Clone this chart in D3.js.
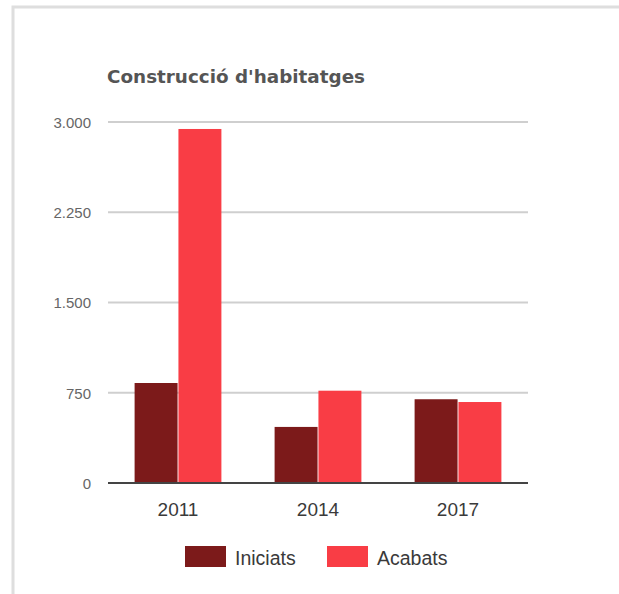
<!DOCTYPE html>
<html><head><meta charset="utf-8">
<script src="https://cdn.jsdelivr.net/npm/d3@7"></script>
<style>body{margin:0;background:#fff;} svg{display:block;}</style>
</head><body>
<svg id="c" width="619" height="594"></svg>
<script>
const categories = ["2011", "2014", "2017"];
const seriesNames = ["Iniciats", "Acabats"];
const iniciats = [831, 466, 696];
const acabats = [2942, 767, 673];
const yTicks = [0, 750, 1500, 2250, 3000];
const yTickLabels = ["0", "750", "1.500", "2.250", "3.000"];
const colors = ["#7c1a1a", "#f93d45"];

const svg = d3.select("#c");
// frame
svg.append("path").attr("d", "M619,7 H13 V594").attr("fill", "none").attr("stroke", "#dedede").attr("stroke-width", 3);

const x0 = d3.scaleBand().domain(categories).range([108, 528]).paddingInner(0.38).paddingOuter(0.19);
const x1 = d3.scaleBand().domain(seriesNames).range([0, x0.bandwidth()]).paddingInner(0.02);
const y = d3.scaleLinear().domain([0, 3000]).range([483, 122]);

// gridlines
svg.append("g").selectAll("line").data(yTicks.slice(1)).join("line")
  .attr("x1", 108).attr("x2", 528).attr("y1", d => y(d)).attr("y2", d => y(d))
  .attr("stroke", "#cfcfcf").attr("stroke-width", 2);

// y labels
const yAxis = d3.axisLeft(y).tickValues(yTicks).tickSize(0).tickPadding(0)
  .tickFormat((d, i) => yTickLabels[i]);
const ya = svg.append("g").attr("transform", "translate(91,0)").call(yAxis);
ya.select(".domain").remove();
ya.selectAll("text").attr("font-family", "Liberation Sans, Arial, sans-serif").attr("font-size", 15)
  .attr("fill", "#666").attr("dy", "0.36em");

// bars
const data = categories.map((c, i) => ({c, vals: [iniciats[i], acabats[i]]}));
const g = svg.append("g");
data.forEach(d => {
  d.vals.forEach((v, j) => {
    g.append("rect")
      .attr("x", x0(d.c) + x1(seriesNames[j]))
      .attr("y", y(v))
      .attr("width", x1.bandwidth())
      .attr("height", y(0) - y(v))
      .attr("fill", colors[j]);
  });
});

// baseline
svg.append("line").attr("x1", 108).attr("x2", 528).attr("y1", y(0)).attr("y2", y(0))
  .attr("stroke", "#444").attr("stroke-width", 2);

// x axis labels
const xAxis = d3.axisBottom(x0).tickSize(0).tickPadding(0);
const xa = svg.append("g").attr("transform", "translate(0,502)").call(xAxis);
xa.select(".domain").remove();
xa.selectAll("text").attr("font-family", "Liberation Sans, Arial, sans-serif").attr("font-size", 19).attr("fill", "#3a3a3a").attr("dy", "0.71em");

// title
svg.append("text").attr("x", 107).attr("y", 83)
  .attr("font-family", "DejaVu Sans, sans-serif").attr("font-weight", "bold").attr("font-size", 17)
  .attr("textLength", 258).attr("lengthAdjust", "spacingAndGlyphs")
  .attr("fill", "#555").text("Construcció d'habitatges");

// legend
const legX = [185, 327];
seriesNames.forEach((s, j) => {
  svg.append("rect").attr("x", legX[j]).attr("y", 546).attr("width", 41).attr("height", 21).attr("fill", colors[j]);
  svg.append("text").attr("x", legX[j] + 50).attr("y", 565)
    .attr("font-family", "Liberation Sans, Arial, sans-serif").attr("font-size", 19.5).attr("fill", "#3a3a3a").text(s);
});
</script>
</body></html>
